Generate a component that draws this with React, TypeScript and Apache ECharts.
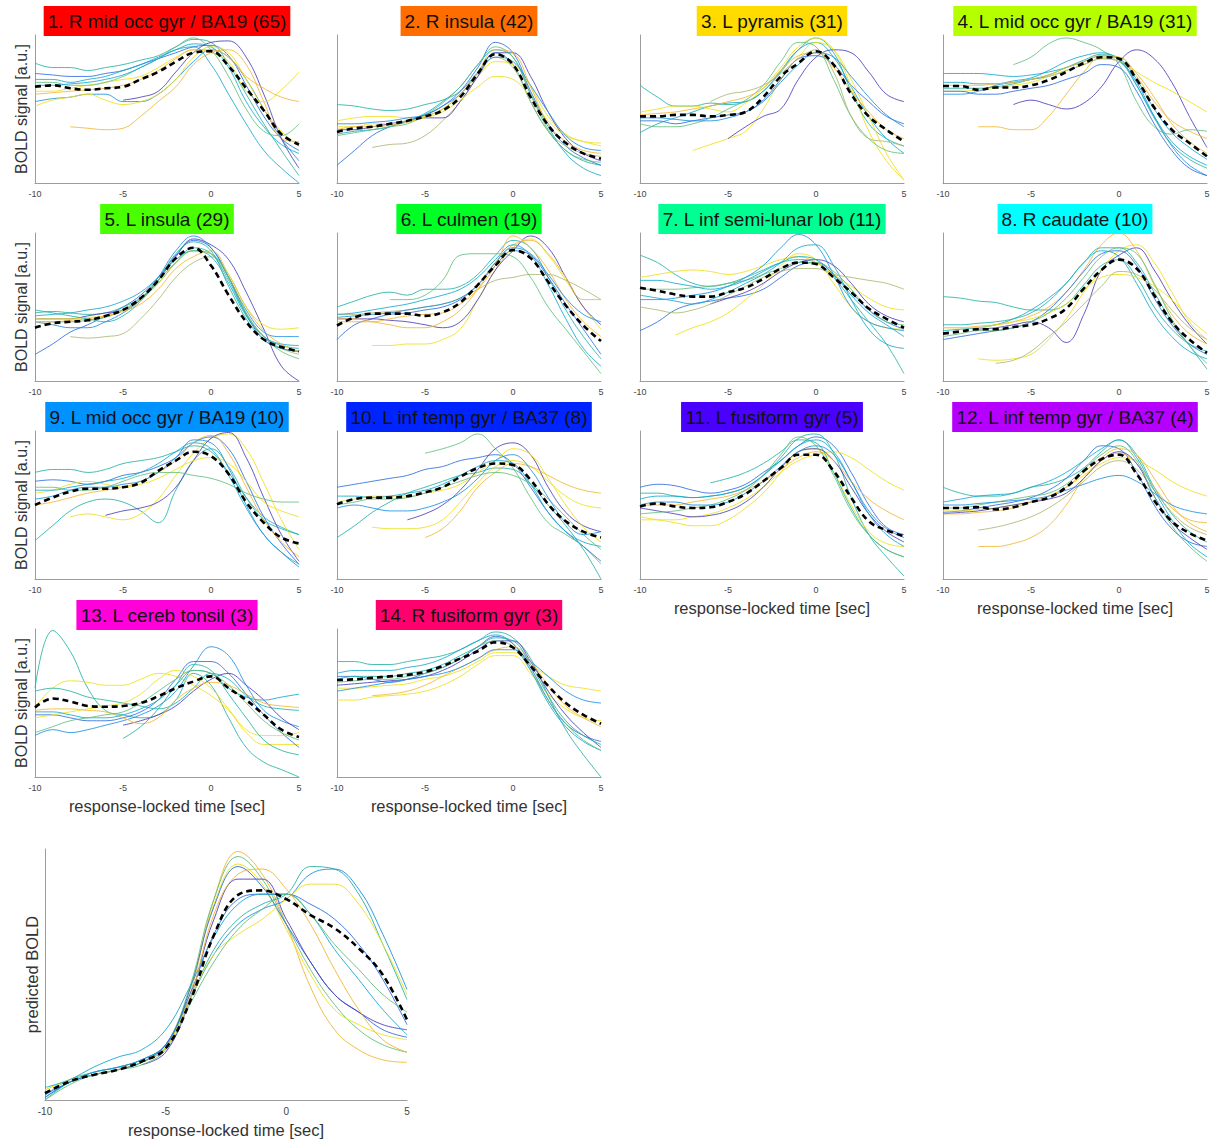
import React, { useEffect, useRef } from "react";
import * as echarts from "echarts";

const TIME = [-10, -9, -8, -7, -6, -5, -4, -3, -2, -1, 0, 1, 2, 3, 4, 5];
const X_TICKS = [-10, -5, 0, 5];

// parula-like line colours
const PALETTE = ["#4b3fb8", "#2d6ee0", "#1d90e0", "#14a9cf", "#25b3a6", "#62bf7c", "#a9b873", "#f3b634", "#efdf1c"];

const TITLES = [
  "1. R mid occ gyr / BA19 (65)",
  "2. R insula (42)",
  "3. L pyramis (31)",
  "4. L mid occ gyr / BA19 (31)",
  "5. L insula (29)",
  "6. L culmen (19)",
  "7. L inf semi-lunar lob (11)",
  "8. R caudate (10)",
  "9. L mid occ gyr / BA19 (10)",
  "10. L inf temp gyr / BA37 (8)",
  "11. L fusiform gyr (5)",
  "12. L inf temp gyr / BA37 (4)",
  "13. L cereb tonsil (3)",
  "14. R fusiform gyr (3)",
];
const TITLE_COLORS = ["#ff0000", "#ff6d00", "#ffdb00", "#b6ff00", "#49ff00", "#00ff24", "#00ff92", "#00ffff", "#0092ff", "#0024ff", "#4900ff", "#b600ff", "#ff00db", "#ff006d"];

const Y_LABEL = "BOLD signal [a.u.]";
const X_LABEL = "response-locked time [sec]";
const PRED_Y_LABEL = "predicted BOLD";

const _ = null;

// ---- Panel 1
const MEAN_1 = [.65, .66, .64, .63, .64, .65, .70, .75, .82, .88, .89, .79, .64, .49, .33, .26];
const LINES_1 = [
  [.81, .78, .78, .76, .78, .80, .83, .86, .92, .97, .95, .80, .60, .40, .22, .05],
  [.74, .73, .72, .72, .74, .76, .80, .84, .88, .92, .93, .86, .66, .45, .30, .22],
  [.70, .70, .68, .70, .72, .76, .80, .85, .90, .94, .92, .78, .55, .38, .26, .20],
  [.55, .57, .58, .60, .60, .55, .55, .60, .70, .82, .90, .85, .70, .50, .30, .15],
  [.52, .56, .58, .60, .56, .53, .55, .60, .70, .85, .92, .88, .70, .50, .35, .25],
  [_, _, .38, .37, .36, .37, .45, .55, .65, .80, .88, .90, .80, .55, .30, .28],
  [_, _, _, _, _, .56, .58, .62, .75, .88, .95, .96, .85, .60, .30, .10],
  [.62, .62, .64, .66, .68, .70, .72, .78, .85, .90, .88, .82, .62, .55, .63, .75],
  [.60, .61, .62, .63, .64, .66, .70, .76, .84, .90, .90, .85, .72, .64, .58, .55],
  [.68, .68, .66, .66, .68, .72, .78, .84, .92, .98, .90, .72, .50, .35, .32, .40],
  [.66, .66, .67, .68, .70, .73, .78, .84, .90, .92, .80, .60, .40, .22, .10, .0],
];
const COLORS_1 = [4, 1, 3, 2, 8, 7, 0, 8, 7, 5, 3];

// ---- Panel 2
const MEAN_2 = [.345, .37, .38, .40, .42, .45, .49, .58, .74, .87, .80, .58, .39, .27, .20, .165];
const LINES_2 = [
  [.53, .52, .50, .49, .50, .53, .56, .62, .75, .88, .80, .55, .35, .22, .15, .12],
  [.12, .22, .32, .38, .42, .46, .52, .62, .78, .95, .88, .62, .40, .25, .17, .12],
  [.42, .44, .45, .45, .44, .45, .50, .60, .72, .82, .80, .65, .45, .33, .28, .27],
  [_, _, .24, .26, .27, .32, .42, .55, .72, .85, .78, .55, .35, .25, .20, .18],
  [.36, .36, .38, .40, .42, .44, .44, .55, .72, .88, .88, .72, .48, .30, .20, .15],
  [.38, .38, .40, .40, .42, .44, .48, .56, .65, .72, .70, .58, .42, .32, .28, .25],
  [.33, .35, .36, .38, .42, .47, .55, .65, .80, .90, .85, .60, .38, .20, .10, .05],
  [.32, .34, .36, .38, .40, .46, .54, .65, .80, .92, .85, .60, .36, .22, .16, .14],
  [.40, .40, .41, .42, .44, .46, .52, .60, .74, .85, .82, .66, .48, .32, .24, .22],
  [.36, .38, .38, .39, .41, .45, .50, .60, .75, .90, .88, .65, .40, .28, .22, .20],
];
const COLORS_2 = [4, 1, 8, 6, 0, 8, 3, 5, 2, 7];

// ---- Panel 3
const MEAN_3 = [.45, .45, .46, .46, .45, .46, .48, .58, .72, .81, .89, .80, .60, .45, .36, .28];
const LINES_3 = [
  [.66, .58, .52, .52, .54, .53, .55, .62, .75, .90, .98, .88, .62, .40, .30, .25],
  [.34, .40, .44, .48, .52, .54, .55, .62, .76, .90, .95, .85, .65, .45, .30, .20],
  [_, _, _, .22, .26, .30, .35, .50, .70, .85, .95, .90, .70, .45, .20, .02],
  [_, _, _, _, _, .30, .38, .45, .50, .70, .85, .90, .88, .75, .60, .55],
  [.42, .42, .40, .42, .44, .46, .48, .56, .70, .84, .86, .80, .66, .55, .45, .40],
  [.48, .50, .52, .52, .50, .48, .54, .64, .78, .92, .98, .90, .65, .35, .15, .02],
  [.40, .38, .38, .40, .44, .50, .56, .66, .82, .95, .92, .70, .45, .30, .22, .20],
  [.46, .47, .48, .50, .52, .55, .58, .64, .76, .86, .88, .78, .62, .48, .36, .30],
  [.44, .44, .43, .42, .42, .44, .48, .55, .68, .80, .88, .85, .72, .58, .46, .38],
  [_, _, _, _, .55, .60, .62, .66, .74, .84, .90, .75, .45, .30, .28, .25],
];
const COLORS_3 = [4, 3, 8, 0, 1, 8, 5, 7, 2, 6];

// ---- Panel 4
const MEAN_4 = [.655, .655, .63, .645, .645, .66, .695, .75, .81, .85, .84, .70, .51, .36, .27, .18];
const LINES_4 = [
  [.74, .74, .74, .73, .72, .73, .75, .78, .82, .86, .84, .70, .50, .34, .24, .16],
  [.60, .60, .62, .66, .68, .70, .72, .76, .80, .84, .82, .68, .45, .25, .12, .05],
  [_, _, _, _, .53, .56, .53, .50, .54, .65, .82, .90, .84, .68, .45, .24],
  [_, _, .38, .38, .36, .36, .45, .60, .75, .85, .85, .72, .55, .42, .35, .30],
  [_, _, _, _, .80, .85, .94, .98, .95, .90, .80, .55, .38, .33, .36, .35],
  [.62, .62, .63, .64, .66, .68, .72, .76, .80, .84, .82, .75, .68, .62, .55, .48],
  [.68, .68, .67, .67, .69, .71, .76, .82, .86, .88, .83, .66, .45, .28, .18, .12],
  [.64, .64, .64, .65, .67, .70, .73, .78, .83, .87, .84, .66, .44, .26, .16, .10],
  [.66, .66, .66, .67, .68, .70, .73, .78, .82, .86, .85, .74, .58, .40, .28, .20],
  [.62, .62, .60, .60, .62, .64, .66, .70, .74, .80, .78, .62, .40, .22, .10, .05],
];
const COLORS_4 = [3, 2, 0, 7, 5, 8, 3, 4, 7, 1];

// ---- Panel 5
const MEAN_5 = [.36, .39, .40, .41, .44, .48, .56, .68, .83, .90, .78, .58, .40, .28, .23, .20];
const LINES_5 = [
  [.18, .25, .33, .38, .44, .50, .58, .70, .85, .95, .90, .70, .45, .28, .22, .20],
  [.46, .47, .46, .45, .46, .50, .56, .66, .80, .90, .86, .68, .45, .30, .24, .22],
  [.42, .42, .42, .44, .46, .48, .55, .68, .84, .96, .92, .82, .60, .35, .10, .0],
  [.42, .42, .42, .43, .44, .48, .55, .66, .80, .88, .86, .72, .50, .38, .35, .36],
  [_, _, .30, .29, .30, .32, .42, .55, .70, .80, .84, .70, .46, .30, .22, .18],
  [.40, .38, .36, .36, .40, .46, .55, .70, .88, .98, .90, .70, .48, .33, .30, .30],
  [.44, .45, .46, .48, .50, .54, .60, .70, .82, .88, .84, .66, .44, .30, .25, .24],
  [.40, .40, .40, .41, .43, .48, .56, .68, .80, .88, .86, .70, .46, .30, .20, .15],
  [.40, .40, .41, .42, .44, .47, .52, .62, .76, .84, .88, .72, .50, .34, .25, .20],
  [.48, .46, .44, .42, .40, .44, .54, .68, .86, .94, .88, .64, .42, .28, .22, .20],
];
const COLORS_5 = [1, 4, 0, 8, 6, 2, 3, 5, 7, 4];

// ---- Panel 6
const MEAN_6 = [.375, .43, .455, .455, .455, .44, .465, .53, .65, .78, .885, .83, .67, .51, .375, .27];
const LINES_6 = [
  [.50, .54, .58, .60, .58, .62, .62, .64, .72, .85, .95, .90, .70, .48, .30, .15],
  [.28, .38, .42, .45, .46, .48, .50, .55, .65, .78, .88, .85, .70, .52, .35, .18],
  [_, _, .24, .24, .25, .25, .28, .35, .55, .75, .90, .96, .85, .68, .50, .35],
  [.42, .42, .42, .41, .40, .38, .36, .40, .55, .75, .88, .98, .90, .70, .50, .38],
  [.45, .45, .46, .47, .48, .50, .52, .56, .62, .68, .70, .72, .72, .68, .62, .55],
  [_, _, _, .55, .55, .58, .68, .85, .86, .86, .84, .70, .50, .35, .20, .05],
  [.42, .42, .40, .38, .36, .36, .40, .48, .62, .80, .92, .95, .86, .70, .55, .55],
  [.45, .46, .48, .50, .52, .55, .58, .62, .70, .82, .92, .85, .65, .42, .22, .10],
  [.40, .40, .40, .42, .44, .45, .46, .52, .62, .78, .98, .90, .75, .55, .40, .30],
  [.43, .44, .45, .46, .48, .50, .52, .56, .65, .80, .90, .86, .72, .56, .45, .40],
];
const COLORS_6 = [4, 1, 8, 0, 6, 5, 7, 3, 7, 2];

// ---- Panel 7
const MEAN_7 = [.63, .61, .585, .57, .57, .60, .63, .69, .76, .80, .79, .70, .60, .49, .42, .36];
const LINES_7 = [
  [.85, .80, .72, .66, .64, .66, .70, .75, .80, .82, .80, .70, .55, .40, .25, .05],
  [.34, .40, .48, .52, .54, .56, .58, .62, .70, .78, .80, .72, .60, .48, .40, .35],
  [_, _, .31, .36, .40, .46, .55, .65, .78, .86, .82, .66, .50, .40, .36, .35],
  [.70, .72, .74, .75, .74, .72, .74, .78, .82, .84, .80, .72, .64, .56, .50, .48],
  [.55, .55, .56, .58, .60, .64, .70, .78, .90, .99, .92, .72, .50, .40, .36, .34],
  [.58, .56, .54, .52, .55, .60, .66, .72, .80, .90, .92, .78, .55, .35, .25, .22],
  [_, _, _, _, .52, .56, .60, .66, .74, .80, .82, .78, .66, .52, .44, .40],
  [.62, .62, .62, .63, .64, .66, .68, .72, .76, .80, .80, .74, .62, .48, .40, .38],
  [.50, .48, .46, .48, .52, .58, .64, .70, .74, .76, .76, .72, .70, .68, .66, .62],
  [.68, .68, .66, .64, .62, .64, .68, .74, .80, .84, .82, .72, .58, .46, .38, .30],
];
const COLORS_7 = [4, 1, 8, 8, 2, 3, 0, 5, 6, 3];

// ---- Panel 8
const MEAN_8 = [.32, .335, .35, .35, .365, .38, .42, .49, .625, .75, .82, .76, .58, .40, .28, .19];
const LINES_8 = [
  [.57, .56, .54, .53, .50, .48, .48, .52, .65, .78, .82, .70, .50, .35, .25, .20],
  [_, _, .35, .36, .38, .40, .36, .26, .45, .75, .85, .90, .75, .55, .38, .25],
  [_, _, .15, .14, .15, .18, .28, .42, .60, .75, .88, .92, .80, .60, .40, .28],
  [.36, .36, .37, .38, .40, .44, .50, .60, .75, .92, 1.0, .88, .65, .45, .32, .25],
  [.28, .30, .32, .34, .36, .40, .48, .60, .74, .86, .88, .78, .56, .38, .25, .18],
  [.34, .35, .36, .38, .42, .48, .56, .66, .80, .88, .84, .66, .45, .30, .20, .15],
  [.36, .36, .36, .38, .40, .42, .46, .52, .62, .70, .72, .70, .64, .55, .42, .32],
  [.38, .38, .39, .40, .42, .46, .54, .66, .80, .90, .90, .80, .60, .40, .24, .08],
  [.30, .32, .34, .34, .36, .40, .46, .56, .70, .84, .90, .86, .66, .42, .24, .12],
  [_, _, _, .12, .14, .20, .30, .40, .52, .64, .74, .72, .62, .48, .36, .28],
];
const COLORS_8 = [4, 0, 8, 7, 1, 3, 8, 4, 5, 6];

// ---- Panel 9
const MEAN_9 = [.50, .55, .59, .61, .61, .62, .65, .73, .80, .86, .83, .71, .52, .38, .28, .24];
const LINES_9 = [
  [.72, .74, .74, .72, .74, .78, .80, .82, .86, .90, .86, .72, .55, .42, .35, .30],
  [.66, .67, .66, .64, .66, .70, .72, .76, .82, .92, .96, .88, .66, .42, .24, .10],
  [.26, .36, .46, .52, .54, .52, .46, .38, .60, .80, .88, .76, .55, .40, .34, .30],
  [_, _, .42, .44, .42, .40, .44, .54, .70, .85, .95, .98, .88, .65, .40, .20],
  [_, _, _, _, .43, .46, .48, .52, .62, .80, .95, .99, .82, .55, .30, .12],
  [.58, .60, .64, .66, .64, .62, .64, .68, .74, .80, .82, .78, .66, .52, .46, .42],
  [.62, .62, .60, .60, .62, .66, .70, .72, .72, .70, .68, .64, .58, .54, .52, .52],
  [.60, .60, .62, .64, .66, .68, .72, .78, .86, .92, .88, .70, .48, .30, .18, .10],
  [.50, .52, .55, .58, .60, .62, .66, .72, .80, .92, .97, .85, .62, .40, .25, .15],
  [.54, .56, .60, .62, .62, .64, .66, .72, .82, .94, .92, .75, .50, .30, .18, .08],
];
const COLORS_9 = [4, 1, 4, 8, 0, 8, 5, 3, 7, 2];

// ---- Panel 10
const MEAN_10 = [.505, .54, .55, .55, .56, .585, .62, .69, .75, .78, .77, .67, .505, .39, .32, .28];
const LINES_10 = [
  [_, _, _, _, _, .85, .88, .92, .98, .88, .75, .55, .38, .30, .22, .10],
  [.62, .64, .66, .68, .70, .74, .76, .80, .82, .84, .78, .62, .45, .32, .22, .12],
  [.28, .36, .45, .52, .58, .62, .66, .70, .72, .75, .74, .64, .50, .36, .20, .0],
  [_, _, .35, .34, .34, .35, .40, .52, .65, .76, .80, .76, .66, .56, .50, .48],
  [_, _, _, _, .40, .44, .50, .60, .74, .88, .92, .84, .62, .45, .36, .32],
  [_, _, _, _, _, .28, .34, .46, .62, .72, .78, .76, .70, .64, .60, .58],
  [.52, .54, .56, .56, .56, .58, .60, .64, .72, .80, .88, .84, .68, .50, .35, .25],
  [.56, .56, .55, .56, .58, .60, .64, .70, .76, .80, .78, .64, .45, .32, .25, .22],
  [.50, .52, .54, .54, .55, .58, .62, .66, .70, .72, .70, .64, .54, .42, .30, .20],
  [.48, .50, .48, .46, .46, .48, .52, .58, .68, .80, .84, .74, .55, .38, .30, .32],
];
const COLORS_10 = [5, 1, 4, 8, 0, 7, 8, 3, 5, 2];

// ---- Panel 11
const MEAN_11 = [.49, .51, .49, .48, .485, .52, .575, .66, .75, .84, .84, .73, .55, .39, .33, .29];
const LINES_11 = [
  [.62, .64, .63, .60, .58, .60, .64, .72, .80, .90, .96, .90, .72, .50, .35, .30],
  [.58, .58, .56, .55, .56, .58, .62, .70, .82, .95, .98, .85, .55, .30, .15, .02],
  [.40, .40, .40, .42, .44, .48, .54, .62, .72, .80, .84, .86, .82, .74, .66, .60],
  [.42, .40, .38, .36, .36, .40, .48, .58, .72, .86, .88, .72, .50, .32, .24, .22],
  [_, _, _, _, .65, .68, .72, .78, .86, .94, .92, .72, .48, .30, .20, .15],
  [.48, .46, .44, .42, .43, .46, .52, .62, .75, .86, .88, .80, .62, .44, .32, .25],
  [.54, .56, .56, .55, .56, .58, .62, .70, .80, .90, .94, .86, .66, .44, .30, .22],
  [.50, .50, .50, .52, .54, .56, .60, .66, .74, .82, .86, .80, .66, .54, .46, .40],
  [.44, .45, .46, .48, .50, .54, .60, .70, .84, .96, .90, .70, .46, .30, .20, .15],
  [.50, .52, .52, .50, .50, .52, .58, .66, .76, .86, .90, .84, .66, .46, .34, .28],
];
const COLORS_11 = [1, 4, 8, 8, 4, 0, 3, 7, 5, 2];

// ---- Panel 12
const MEAN_12 = [.48, .48, .485, .47, .485, .52, .55, .62, .73, .81, .84, .71, .53, .39, .31, .26];
const LINES_12 = [
  [.62, .58, .56, .56, .58, .62, .64, .68, .75, .86, .94, .84, .62, .44, .32, .25],
  [.45, .46, .48, .50, .52, .55, .60, .68, .80, .90, .88, .72, .50, .34, .25, .22],
  [_, _, .22, .22, .24, .28, .36, .50, .68, .80, .85, .78, .62, .48, .40, .38],
  [_, _, .33, .35, .38, .42, .48, .56, .66, .76, .80, .74, .60, .45, .35, .30],
  [.46, .46, .47, .48, .50, .52, .56, .62, .70, .78, .82, .80, .74, .66, .60, .56],
  [.52, .54, .56, .57, .58, .62, .66, .72, .80, .88, .94, .82, .60, .40, .24, .15],
  [.44, .45, .46, .48, .50, .52, .54, .58, .68, .80, .86, .78, .56, .38, .28, .20],
  [.48, .48, .50, .52, .54, .56, .58, .64, .74, .84, .90, .80, .56, .36, .22, .12],
  [.44, .44, .45, .46, .48, .52, .56, .62, .72, .82, .88, .84, .68, .50, .38, .32],
  [.50, .50, .51, .52, .53, .54, .56, .60, .64, .68, .70, .66, .58, .50, .46, .44],
];
const COLORS_12 = [4, 1, 7, 6, 8, 3, 0, 5, 7, 2];

// ---- Panel 13
const MEAN_13 = [.47, .53, .51, .48, .475, .48, .50, .545, .60, .645, .68, .60, .52, .42, .32, .27];
const LINES_13 = [
  [.60, .99, .85, .60, .45, .42, .40, .42, .52, .70, .62, .40, .20, .10, .05, .0],
  [.47, .60, .65, .64, .62, .62, .66, .70, .68, .62, .55, .45, .30, .22, .22, .22],
  [.58, .60, .58, .54, .52, .50, .48, .46, .50, .60, .70, .66, .55, .48, .46, .45],
  [.28, .32, .30, .32, .35, .38, .42, .48, .58, .75, .88, .82, .62, .45, .38, .34],
  [.42, .42, .40, .38, .38, .40, .44, .52, .66, .78, .78, .70, .56, .42, .30, .20],
  [_, _, _, _, _, .35, .38, .42, .48, .58, .66, .70, .62, .52, .40, .32],
  [.45, .46, .46, .45, .44, .40, .36, .40, .52, .60, .64, .62, .56, .50, .48, .47],
  [.40, .42, .44, .46, .48, .50, .56, .66, .72, .68, .60, .46, .32, .28, .28, .30],
  [_, _, _, _, _, .26, .34, .46, .62, .76, .72, .56, .40, .25, .18, .15],
  [.44, .44, .42, .40, .40, .42, .46, .52, .62, .72, .70, .60, .54, .52, .54, .56],
  [.30, .34, .38, .40, .42, .44, .50, .58, .66, .72, .70, .62, .50, .38, .30, .25],
];
const COLORS_13 = [4, 8, 4, 2, 1, 0, 7, 8, 4, 3, 5];

// ---- Panel 14
const MEAN_14 = [.655, .66, .67, .68, .69, .71, .75, .80, .85, .91, .875, .75, .615, .50, .42, .36];
const LINES_14 = [
  [.78, .78, .76, .76, .78, .80, .82, .86, .92, .98, .94, .80, .55, .32, .15, .0],
  [.52, .52, .54, .55, .56, .58, .62, .68, .76, .82, .82, .70, .56, .46, .40, .38],
  [.60, .60, .61, .62, .63, .66, .68, .72, .78, .84, .84, .76, .68, .62, .60, .58],
  [.68, .68, .66, .64, .66, .70, .74, .80, .88, .95, .90, .74, .52, .36, .28, .24],
  [.62, .63, .64, .65, .66, .68, .72, .78, .86, .92, .92, .78, .58, .42, .30, .20],
  [.70, .72, .72, .72, .74, .76, .80, .86, .92, .96, .90, .72, .50, .34, .24, .18],
  [_, _, .55, .56, .58, .62, .68, .74, .80, .86, .88, .78, .62, .48, .40, .34],
  [.64, .65, .66, .66, .68, .70, .74, .80, .88, .92, .88, .72, .52, .36, .25, .18],
  [.58, .60, .62, .64, .66, .68, .70, .74, .80, .86, .86, .78, .68, .58, .52, .50],
  [.66, .68, .68, .68, .70, .72, .76, .82, .88, .94, .92, .76, .55, .38, .28, .22],
];
const COLORS_14 = [4, 8, 8, 1, 0, 3, 7, 5, 2, 4];

// ---- Predicted BOLD panel
const MEAN_PRED = [.027, .073, .10, .12, .153, .206, .39, .657, .817, .835, .80, .737, .684, .604, .498, .32];
const LINES_PRED = [
  [_, _, _, _, _, .20, .42, .80, .99, .90, .70, .45, .28, .20, .16, .15],
  [.02, .08, .11, .13, .16, .22, .45, .80, .97, .88, .70, .52, .38, .28, .22, .19],
  [.04, .08, .10, .12, .15, .21, .44, .78, .94, .86, .68, .50, .36, .30, .26, .24],
  [.01, .07, .10, .12, .15, .21, .44, .77, .93, .85, .70, .55, .42, .35, .28, .25],
  [_, _, _, _, .14, .19, .40, .72, .88, .88, .72, .55, .42, .35, .30, .28],
  [.0, .07, .11, .13, .16, .22, .40, .60, .72, .78, .82, .93, .92, .82, .62, .40],
  [.01, .07, .11, .13, .16, .22, .40, .58, .70, .76, .80, .90, .92, .84, .66, .44],
  [.04, .08, .10, .12, .15, .21, .40, .58, .66, .72, .80, .86, .86, .78, .62, .42],
  [.02, .07, .10, .12, .15, .22, .42, .66, .80, .82, .82, .78, .72, .62, .48, .30],
  [.05, .08, .13, .17, .20, .28, .45, .65, .78, .82, .82, .74, .60, .48, .36, .26],
  [.0, .06, .10, .12, .14, .20, .38, .55, .68, .76, .82, .74, .62, .52, .42, .35],
  [_, _, _, _, _, .20, .40, .74, .90, .92, .84, .70, .52, .36, .24, .19],
];
const COLORS_PRED = [7, 5, 8, 1, 0, 4, 2, 8, 1, 3, 5, 7];

const MEANS = [MEAN_1, MEAN_2, MEAN_3, MEAN_4, MEAN_5, MEAN_6, MEAN_7, MEAN_8, MEAN_9, MEAN_10, MEAN_11, MEAN_12, MEAN_13, MEAN_14];
const LINES = [LINES_1, LINES_2, LINES_3, LINES_4, LINES_5, LINES_6, LINES_7, LINES_8, LINES_9, LINES_10, LINES_11, LINES_12, LINES_13, LINES_14];
const COLORS = [COLORS_1, COLORS_2, COLORS_3, COLORS_4, COLORS_5, COLORS_6, COLORS_7, COLORS_8, COLORS_9, COLORS_10, COLORS_11, COLORS_12, COLORS_13, COLORS_14];

const FONT = '"Liberation Sans", Arial, sans-serif';
const COL_LEFT = [35, 337, 640, 943];
const ROW_TOP = [35, 233, 431, 629];
const PW = 264;
const PH = 148;

function toPairs(vals: (number | null)[]) {
  const out: number[][] = [];
  vals.forEach((v, i) => {
    if (v !== null && v !== undefined) out.push([TIME[i], v]);
  });
  return out;
}

function buildOption() {
  const grid: any[] = [];
  const xAxis: any[] = [];
  const yAxis: any[] = [];
  const series: any[] = [];
  const graphic: any[] = [];
  const axisLine = { show: true, onZero: false, lineStyle: { color: "#9c9c9c", width: 1 } };

  for (let p = 0; p < 14; p++) {
    const col = p % 4;
    const row = Math.floor(p / 4);
    const left = COL_LEFT[col];
    const top = ROW_TOP[row];
    grid.push({ left, top, width: PW, height: PH, containLabel: false });
    const showX = p >= 10;
    xAxis.push({
      type: "value", gridIndex: p, min: -10, max: 5, interval: 5,
      axisLine, axisTick: { show: false }, splitLine: { show: false },
      axisLabel: { fontSize: 9, color: "#444", fontFamily: FONT, margin: 6 },
      name: showX ? X_LABEL : "", nameLocation: "middle", nameGap: 20,
      nameTextStyle: { fontSize: 16.5, color: "#333", fontFamily: FONT },
    });
    const showY = col === 0;
    yAxis.push({
      type: "value", gridIndex: p, min: 0, max: 1,
      axisLine, axisTick: { show: false }, splitLine: { show: false }, axisLabel: { show: false },
      name: showY ? Y_LABEL : "", nameLocation: "middle", nameGap: 6,
      nameTextStyle: { fontSize: 16, color: "#333", fontFamily: FONT },
    });
    LINES[p].forEach((ln, k) => {
      series.push({
        type: "line", xAxisIndex: p, yAxisIndex: p, data: toPairs(ln), smooth: 0.4,
        showSymbol: false, symbol: "none", silent: true,
        lineStyle: { width: 1, color: PALETTE[COLORS[p][k]], opacity: 0.85 },
      });
    });
    series.push({
      type: "line", xAxisIndex: p, yAxisIndex: p, data: toPairs(MEANS[p]), smooth: 0.4,
      showSymbol: false, symbol: "none", silent: true, z: 5,
      lineStyle: { width: 2.6, color: "#000", type: [6, 4] },
    });
    graphic.push({
      type: "text", x: left + PW / 2, y: top - 29, z: 10,
      style: {
        text: TITLES[p], fontSize: 19, fontFamily: FONT, fill: "#111",
        align: "center", verticalAlign: "top", backgroundColor: TITLE_COLORS[p],
        padding: [5, 4, 5, 4], lineHeight: 20,
      },
    });
  }

  // predicted panel
  const pi = 14;
  grid.push({ left: 45, top: 849, width: 362, height: 251 });
  xAxis.push({
    type: "value", gridIndex: pi, min: -10, max: 5, interval: 5,
    axisLine, axisTick: { show: false }, splitLine: { show: false },
    axisLabel: { fontSize: 10, color: "#444", fontFamily: FONT, margin: 6 },
    name: X_LABEL, nameLocation: "middle", nameGap: 21,
    nameTextStyle: { fontSize: 16.5, color: "#333", fontFamily: FONT },
  });
  yAxis.push({
    type: "value", gridIndex: pi, min: 0, max: 1,
    axisLine, axisTick: { show: false }, splitLine: { show: false }, axisLabel: { show: false },
    name: PRED_Y_LABEL, nameLocation: "middle", nameGap: 5,
    nameTextStyle: { fontSize: 16.5, color: "#333", fontFamily: FONT },
  });
  LINES_PRED.forEach((ln, k) => {
    series.push({
      type: "line", xAxisIndex: pi, yAxisIndex: pi, data: toPairs(ln), smooth: 0.4,
      showSymbol: false, symbol: "none", silent: true,
      lineStyle: { width: 1, color: PALETTE[COLORS_PRED[k]], opacity: 0.9 },
    });
  });
  series.push({
    type: "line", xAxisIndex: pi, yAxisIndex: pi, data: toPairs(MEAN_PRED), smooth: 0.4,
    showSymbol: false, symbol: "none", silent: true, z: 5,
    lineStyle: { width: 2.6, color: "#000", type: [6, 4] },
  });

  return { animation: false, backgroundColor: "#fff", grid, xAxis, yAxis, series, graphic };
}

export default function App() {
  const ref = useRef<HTMLDivElement>(null);
  useEffect(() => {
    if (!ref.current) return;
    const chart = echarts.init(ref.current, null, { renderer: "svg" });
    chart.setOption(buildOption() as any);
    return () => chart.dispose();
  }, []);
  return <div ref={ref} style={{ position: "absolute", left: 0, top: 0, width: 1221, height: 1141 }} />;
}
